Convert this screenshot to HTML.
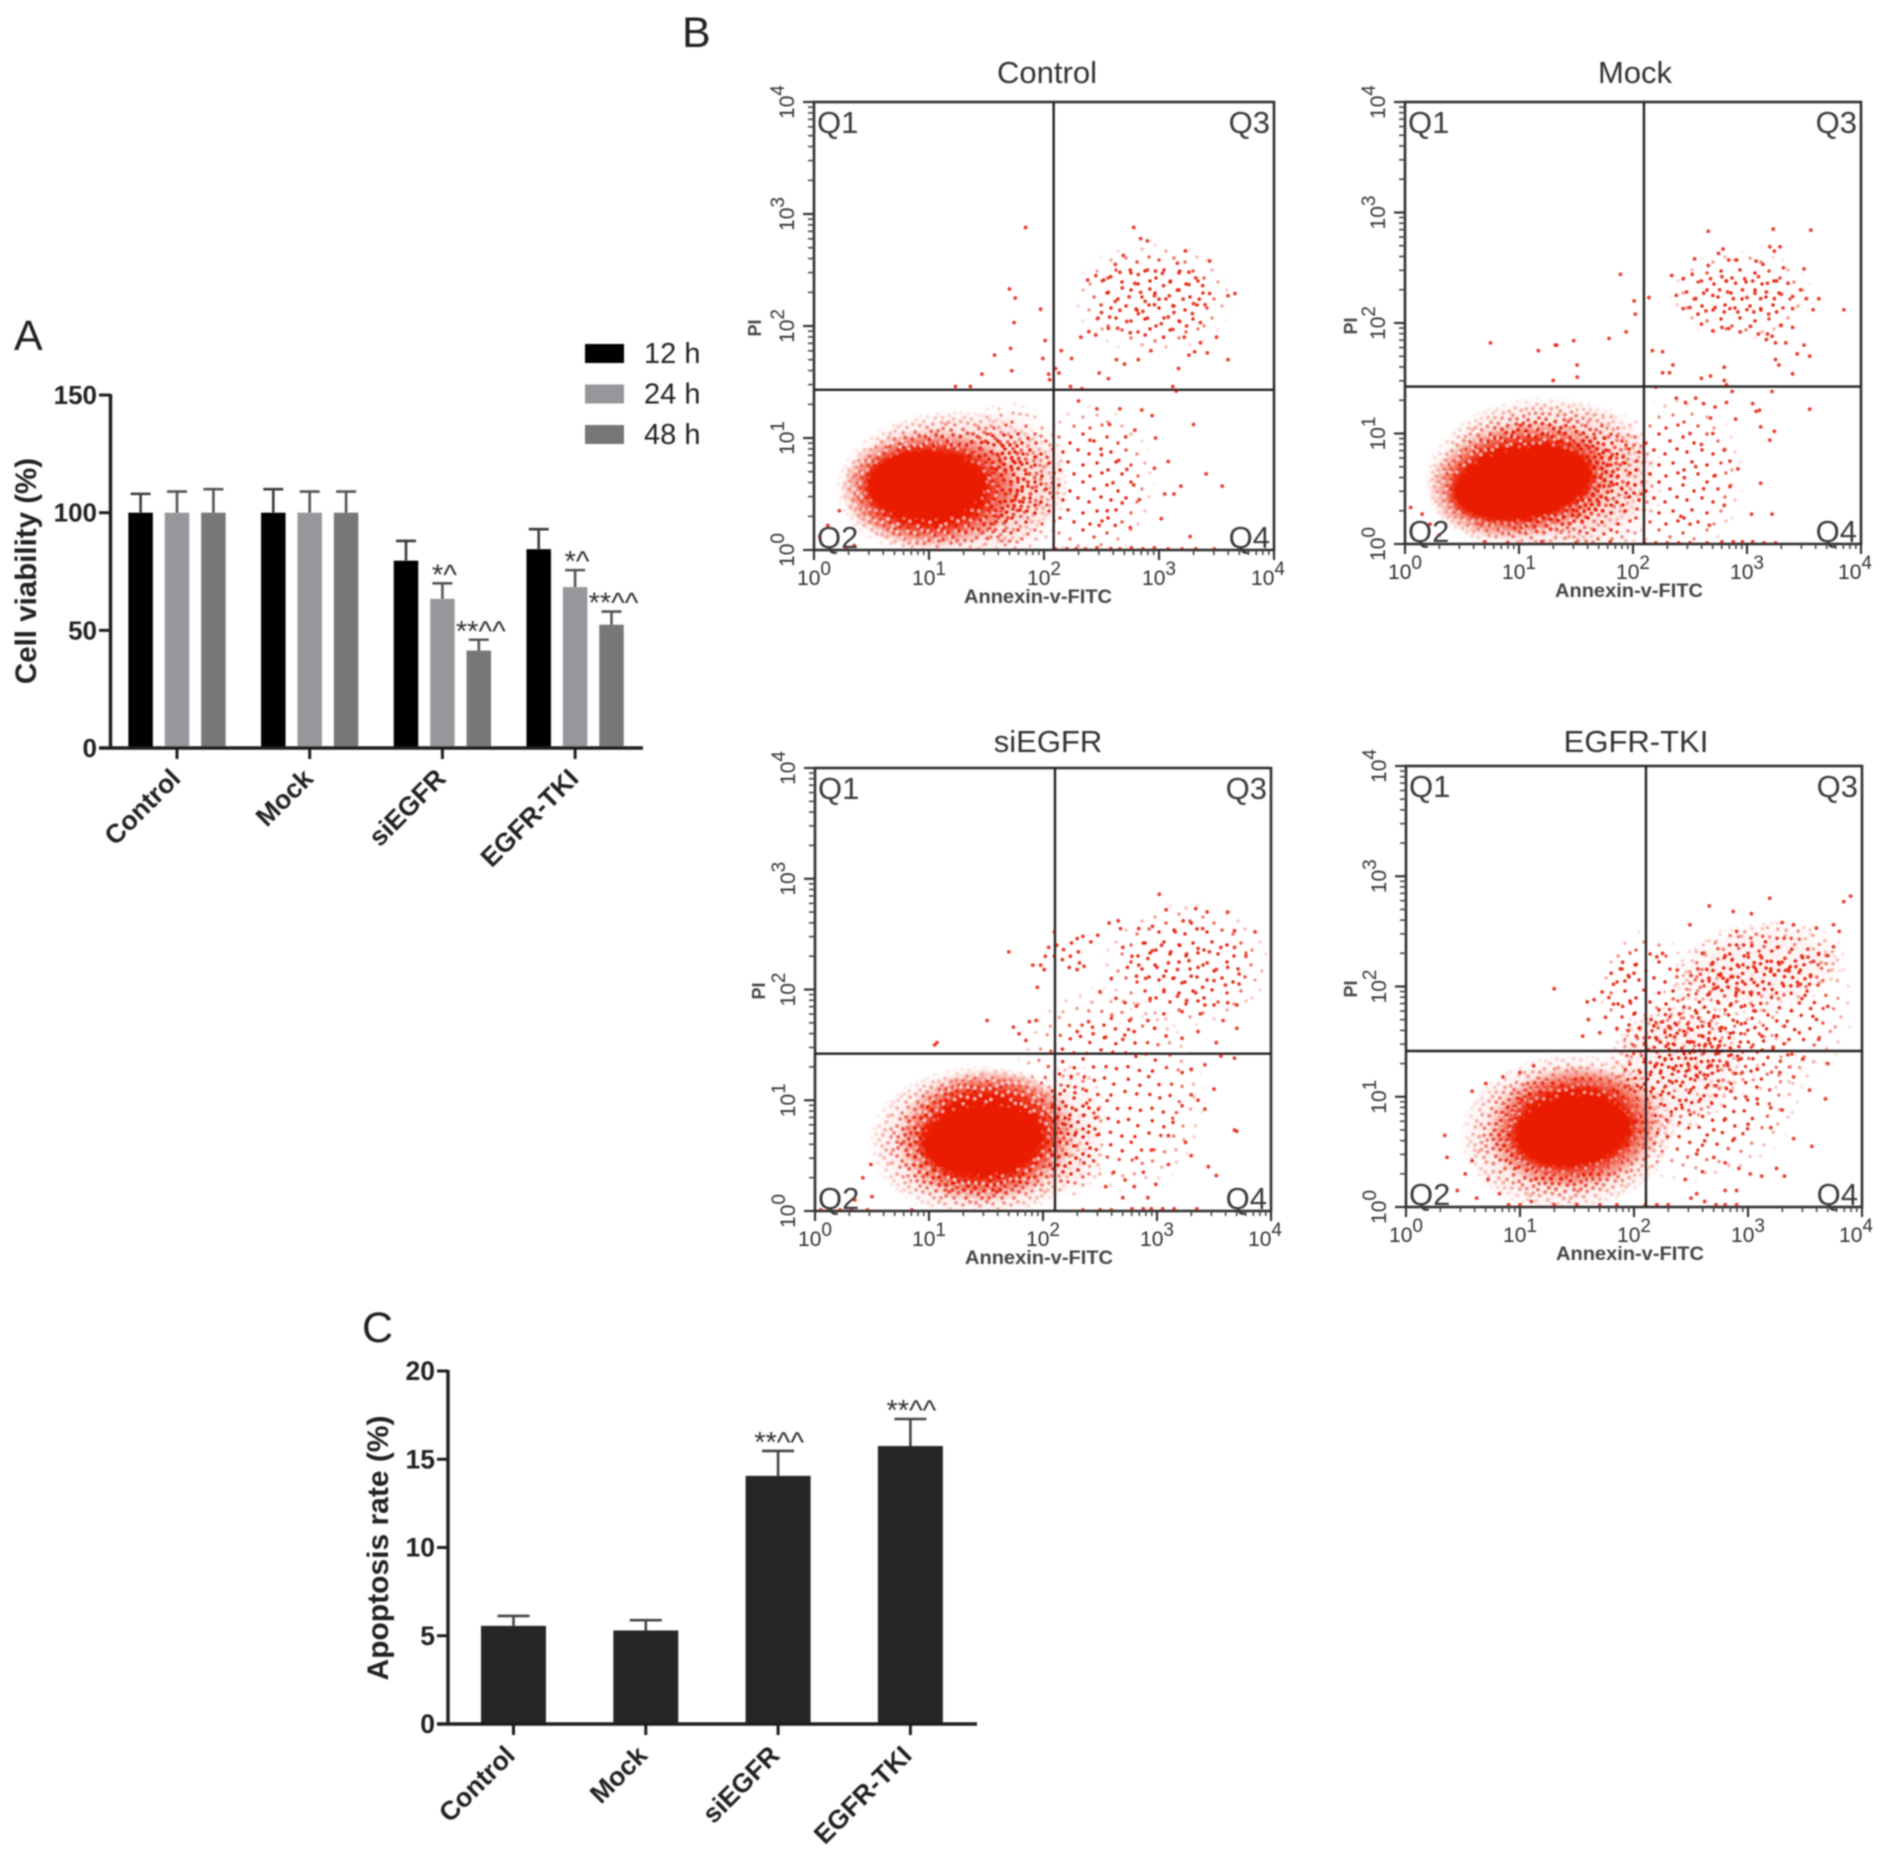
<!DOCTYPE html>
<html lang="en">
<head>
<meta charset="utf-8">
<title>Cell viability, flow cytometry and apoptosis rate</title>
<style>
html,body{margin:0;padding:0;background:#fff;}
svg{display:block;font-family:"Liberation Sans",sans-serif;}
</style>
</head>
<body>
<svg id="figure" xmlns="http://www.w3.org/2000/svg" width="1890" height="1856" viewBox="0 0 1890 1856">
<defs id="defs">
<filter id="soft" x="-2%" y="-2%" width="104%" height="104%"><feGaussianBlur stdDeviation="0.7"/></filter>
<radialGradient id="feather-fill" cx="0.5" cy="0.5" r="0.5"><stop offset="0.6" stop-color="#fff"/><stop offset="1" stop-color="#000"/></radialGradient>
<radialGradient id="core-fill" cx="0.5" cy="0.5" r="0.5"><stop offset="0.86" stop-color="#fff"/><stop offset="1" stop-color="#000"/></radialGradient>
<mask id="feather-mask" maskContentUnits="objectBoundingBox"><rect width="1" height="1" fill="url(#feather-fill)"/></mask>
<mask id="core-mask" maskContentUnits="objectBoundingBox"><rect width="1" height="1" fill="url(#core-fill)"/></mask>
</defs>
<g id="root" filter="url(#soft)">
<text x="14" y="350" font-size="43" fill="#222">A</text>
<text x="682" y="47" font-size="43" fill="#222">B</text>
<text x="362" y="1342" font-size="43" fill="#222">C</text>
<g id="viability-chart"></g>
<g id="flow-charts"></g>
<g id="apoptosis-chart"></g>
</g>
</svg>
<script>
/* ---------- Panel A data ---------- */
const viabilityCategories = ["Control", "Mock", "siEGFR", "EGFR-TKI"];
const viabilitySeriesNames = ["12 h", "24 h", "48 h"];
const viability12h = [100, 100, 79.6, 84.5];
const viability24h = [100, 100, 63.4, 68.4];
const viability48h = [100, 100, 41.4, 52.4];
const viabilityErrTop12h = [108, 110, 88, 93];
const viabilityErrTop24h = [109, 109, 70, 75.6];
const viabilityErrTop48h = [110, 109, 46, 58];
const viabilitySig12h = ["", "", "", ""];
const viabilitySig24h = ["", "", "*^", "*^"];
const viabilitySig48h = ["", "", "**^^", "**^^"];
const viabilityTicks = [0, 50, 100, 150];

/* ---------- Panel C data ---------- */
const apoptosisCategories = ["Control", "Mock", "siEGFR", "EGFR-TKI"];
const apoptosisValues = [5.56, 5.3, 14.06, 15.75];
const apoptosisErrTop = [6.12, 5.88, 15.47, 17.28];
const apoptosisSig = ["", "", "**^^", "**^^"];
const apoptosisTicks = [0, 5, 10, 15, 20];

/* ---------- Panel B data: log10 fluorescence (Annexin-V, PI) ---------- */
const flowExponents = [0, 1, 2, 3, 4];
const controlGate = [2.084, 1.43];
const mockGate = [2.096, 1.425];
const siegfrGate = [2.105, 1.42];
const tkiGate = [2.105, 1.415];

/* density regions: [logX, logY, spreadX, spreadY, tilt, densityLevel]
   levels: 0 sparse, 4 medium, 1 dense, 2 speckled solid, 3 solid */
const controlRegions = [
  [2.95,2.25,0.62,0.44,0,0],[2.40,0.60,0.50,0.62,0,0],[1.70,0.62,0.45,0.62,0,4],[1.20,0.58,0.88,0.58,-3,1],[1.02,0.55,0.68,0.46,0,2],[0.97,0.58,0.53,0.32,0,3]
];
const mockRegions = [
  [2.95,2.25,0.55,0.36,0,0],[2.40,0.60,0.50,0.65,0,0],[1.70,0.55,0.50,0.60,0,4],[1.18,0.62,0.88,0.62,-5,1],[1.03,0.58,0.72,0.46,-8,2],[1.03,0.55,0.64,0.33,-10,3]
];
const siegfrRegions = [
  [3.26,2.22,0.66,0.50,0,0],[2.60,1.10,0.70,0.85,-30,0],[2.25,0.72,0.28,0.55,0,4],[1.45,0.62,0.85,0.60,0,1],[1.50,0.68,0.68,0.52,-5,2],[1.47,0.64,0.55,0.33,-5,3]
];
const tkiRegions = [
  [2.60,1.05,0.80,0.72,-20,0],[2.10,1.95,0.36,0.50,0,0],[3.10,1.80,0.75,0.70,-15,0],[2.60,1.55,0.70,0.50,-25,0],[3.10,2.17,0.68,0.36,-8,4],[2.35,1.25,0.55,0.50,-25,4],[1.42,0.68,0.82,0.62,-5,1],[1.47,0.72,0.66,0.48,-6,2],[1.46,0.69,0.53,0.33,-8,3]
];

const controlPoints = [
[1.84,2.88],[1.70,2.33],[1.75,2.25],[1.74,2.03],[1.97,2.15],[2.01,1.87],[1.71,1.80],[1.57,1.74],[1.99,1.71],[1.72,1.60],[1.46,1.57],[1.23,1.46],[1.36,1.46],[2.04,1.57],[2.13,1.58],[2.15,1.78],[2.24,1.71],[2.10,1.62],[2.05,1.52],
[2.78,2.88],[2.84,2.78],[2.90,2.76],[2.69,2.63],[3.23,2.67],[3.44,2.58],[3.16,2.56],[2.62,2.55],[2.38,2.41],[2.45,2.45],[2.52,2.41],[2.58,2.44],[2.66,2.48],[2.75,2.50],[2.82,2.46],[2.90,2.50],[2.97,2.49],[3.03,2.47],[3.10,2.40],[3.18,2.49],[3.26,2.48],[3.32,2.43],[3.38,2.36],[3.44,2.29],[3.60,2.27],[3.66,2.29],
[2.56,2.30],[2.62,2.22],[2.68,2.34],[2.74,2.26],[2.79,2.38],[2.84,2.30],[2.88,2.22],[2.92,2.33],[2.96,2.27],[3.00,2.24],[3.04,2.36],[3.09,2.27],[3.12,2.18],[3.16,2.32],[3.21,2.24],[3.26,2.37],[3.30,2.20],[3.35,2.24],[3.40,2.19],[2.50,2.12],[2.57,2.08],[2.66,2.14],[2.72,2.04],[2.80,2.15],[2.82,2.11],[2.86,2.13],[2.90,2.07],[2.96,2.19],[3.02,2.02],[3.08,2.08],[3.13,2.12],[3.18,2.04],[3.24,2.00],[3.29,2.11],[3.36,2.03],[2.32,1.90],[2.39,1.95],[2.45,1.92],[2.47,2.07],[2.56,1.98],[2.64,1.98],[2.75,1.94],[2.88,1.92],[2.93,1.78],[3.04,1.90],[3.12,1.97],[3.22,1.90],[3.31,1.77],[3.36,1.85],[3.50,1.90],[3.60,1.70],[3.42,1.76],
[2.63,1.70],[2.70,1.66],[2.82,1.70],[3.17,1.62],[3.26,1.74],[2.48,1.58],[2.56,1.53],[3.12,1.46],[3.15,1.42],[2.30,1.33],[2.23,1.46],[2.33,1.44],
[2.46,1.26],[2.66,1.26],[2.94,1.20],[3.30,1.12],[2.57,1.12],[2.79,1.07],[2.71,1.01],[2.97,1.00],[3.08,0.79],[2.96,0.73],[3.41,0.68],[3.55,0.57],[3.19,0.57],[3.05,0.50],[3.13,0.50],[3.02,0.28],[3.27,0.12],[2.85,1.25],[2.40,0.98],[2.50,0.85],[2.65,0.80],[2.72,0.72],[2.60,0.60],[2.78,0.58],[2.83,0.45],[2.68,0.42],[2.55,0.35],[2.62,0.22],[2.48,0.22],[2.75,0.20],
[2.10,0.01],[2.20,0.01],[2.28,0.01],[2.36,0.01],[2.46,0.02],[2.58,0.01],[2.66,0.01],[2.76,0.02],[2.86,0.01],[2.96,0.02],[3.08,0.01],[3.20,0.01],[3.32,0.01],[3.48,0.01],[3.70,0.01],[0.35,0.04],[0.28,0.02],[0.05,0.12],[0.12,0.22],[0.22,0.35]
];

const mockPoints = [
[2.66,2.83],[3.23,2.85],[3.56,2.84],[2.79,2.67],[2.75,2.63],[3.20,2.69],[3.24,2.65],[3.29,2.69],[2.54,2.58],[2.66,2.52],[2.84,2.57],[2.91,2.57],[3.08,2.56],[3.14,2.53],[3.32,2.50],[3.50,2.49],[2.34,2.43],[2.44,2.40],[2.52,2.44],[2.60,2.38],[2.68,2.40],[2.78,2.42],[2.82,2.38],[2.90,2.36],[2.98,2.40],[3.05,2.38],[3.10,2.42],[3.18,2.36],[3.26,2.38],[3.36,2.36],[3.47,2.30],
[2.38,2.25],[2.47,2.28],[2.55,2.22],[2.62,2.27],[2.70,2.25],[2.76,2.30],[2.83,2.28],[2.88,2.22],[2.96,2.30],[3.00,2.23],[3.07,2.27],[3.12,2.22],[3.17,2.28],[3.24,2.22],[3.30,2.26],[3.40,2.24],[3.52,2.22],[3.63,2.22],[2.44,2.13],[2.50,2.14],[2.57,2.08],[2.64,2.11],[2.72,2.14],[2.80,2.10],[2.85,2.13],[2.92,2.10],[3.00,2.12],[3.06,2.10],[3.12,2.13],[3.19,2.08],[3.26,2.10],[3.40,2.13],[3.58,2.12],[3.85,2.12],[2.60,1.99],[2.70,1.93],[2.78,1.96],[2.84,1.95],[2.94,1.92],[3.03,1.97],[3.10,1.90],[3.17,1.85],[3.22,1.88],[3.30,1.98],[3.40,1.96],[3.18,1.90],[3.25,1.82],[3.34,1.82],[3.50,1.80],[3.44,1.72],[3.25,1.67],[3.28,1.62],[3.40,1.54],[3.55,1.70],
[1.89,2.44],[2.01,2.20],[2.14,2.23],[2.02,2.08],[1.94,1.92],[1.79,1.86],[1.33,1.80],[1.32,1.80],[1.48,1.84],[0.75,1.82],[1.17,1.75],[1.51,1.62],[1.51,1.51],[1.30,1.48],[2.17,1.75],[2.26,1.74],[2.35,1.62],[2.26,1.55],[2.20,1.42],[2.32,1.55],
[2.60,1.50],[2.68,1.52],[2.80,1.48],[2.82,1.44],[2.80,1.60],[2.87,1.38],[3.22,1.38],[3.08,1.20],[3.05,1.27],[3.11,1.21],[3.55,1.22],[2.38,1.32],[2.46,1.28],[2.55,1.32],[2.62,1.27],[2.72,1.24],[2.82,1.28],[2.68,1.14],[2.90,1.13],[3.12,1.06],[3.24,1.02],[3.20,0.94],[2.70,1.00],[2.50,1.00],[2.60,0.90],[2.80,0.85],[2.85,0.75],[2.92,0.68],[2.72,0.62],[2.55,0.70],[2.45,0.60],[2.62,0.50],[2.85,0.52],[2.80,0.35],[3.12,0.55],[3.04,0.27],[3.22,0.27],[2.67,0.17],[2.42,0.25],[2.50,0.18],
[0.70,0.02],[0.90,0.01],[1.20,0.02],[1.50,0.01],[1.80,0.02],[2.10,0.01],[2.20,0.01],[2.30,0.01],[2.40,0.01],[2.50,0.01],[2.65,0.01],[2.78,0.02],[2.88,0.02],[2.96,0.02],[3.05,0.02],[3.15,0.01],[3.25,0.01],[0.15,0.27],[0.22,0.18],[0.30,0.08],[0.05,0.33]
];

const siegfrPoints = [
[3.02,2.86],[2.58,2.60],[2.66,2.62],[3.08,2.72],[3.34,2.73],[3.44,2.70],[3.62,2.70],[3.23,2.62],[3.30,2.60],[2.48,2.49],[2.68,2.55],[2.84,2.55],[2.96,2.57],[3.16,2.52],[3.40,2.55],[3.68,2.53],[3.86,2.52],
[2.10,2.52],[2.35,2.48],[2.42,2.43],[2.25,2.42],[2.30,2.46],[2.12,2.40],[2.18,2.36],[2.05,2.38],[2.02,2.30],[2.10,2.30],[2.17,2.27],[2.24,2.30],[2.31,2.34],[2.32,2.24],[2.36,2.21],[2.01,2.18],[1.98,2.22],[2.23,2.20],[2.30,2.18],[1.70,2.34],[1.91,2.22],[1.95,2.02],
[2.70,2.38],[2.78,2.30],[2.88,2.42],[2.96,2.35],[3.04,2.40],[3.12,2.34],[3.20,2.40],[3.26,2.32],[3.36,2.37],[3.46,2.34],[3.56,2.38],[3.68,2.38],[3.78,2.30],[2.74,2.20],[2.84,2.22],[2.92,2.28],[3.00,2.20],[3.10,2.24],[3.18,2.18],[3.28,2.26],[3.36,2.20],[3.44,2.24],[3.52,2.18],[3.62,2.20],[3.72,2.14],[2.60,2.10],[2.82,2.12],[2.90,2.10],[3.06,2.12],[3.14,2.10],[3.22,2.06],[3.30,2.12],[3.40,2.02],[3.50,2.08],[3.60,2.04],[3.72,2.05],
[2.50,1.98],[2.64,1.92],[2.72,1.88],[2.94,1.92],[3.06,1.98],[3.18,1.94],[3.26,1.90],[3.34,1.97],[3.42,1.86],[3.50,1.86],[3.62,1.88],[3.70,1.86],[2.82,1.85],[2.60,1.74],[2.76,1.72],[2.92,1.72],[3.06,1.78],[3.22,1.80],[3.38,1.78],[3.58,1.72],[3.70,1.65],[2.40,1.71],[2.30,1.62],[2.44,1.60],[2.55,1.57],[2.70,1.55],[2.80,1.62],[2.98,1.65],[3.08,1.58],[3.22,1.56],[3.36,1.62],[3.52,1.52],[1.51,1.72],[1.74,1.66],[1.88,1.71],[1.94,1.72],[1.79,1.60],[1.85,1.54],[1.07,1.52],[1.05,1.50],
[3.22,1.25],[3.30,1.28],[3.42,1.32],[3.56,1.40],[3.68,1.38],[3.50,1.10],[3.36,1.00],[3.22,0.95],[3.30,1.05],[3.42,0.92],[3.68,0.73],[3.14,0.80],[3.10,0.68],[3.25,0.62],[3.30,0.50],[3.10,0.42],[3.45,0.40],[3.52,0.32],[3.70,0.72],[2.95,0.55],[2.82,0.48],[2.88,0.35],[2.72,0.28],[2.62,0.35],[2.55,0.22],[2.70,0.12],[2.80,0.22],[2.99,0.24],[2.92,0.12],[2.78,0.02],[2.88,0.02],[2.95,0.02],[3.05,0.02],[3.15,0.02],[3.35,0.02],[0.49,0.42],[0.42,0.30],[0.50,0.13],[0.35,0.10],[2.35,0.01],[2.50,0.01],[2.60,0.01],[0.05,0.01],[0.12,0.02],[0.22,0.01],[0.32,0.01],[0.46,0.01],[0.85,0.01]
];

const tkiPoints = [
[3.19,2.80],[3.84,2.77],[3.90,2.82],[2.66,2.73],[2.87,2.68],[3.03,2.66],[2.49,2.56],[2.90,2.50],[3.30,2.58],[3.40,2.56],[3.60,2.53],[3.75,2.56],[3.80,2.50],
[1.30,1.98],[1.59,1.86],[1.65,1.88],[1.72,1.95],[1.78,1.90],[1.82,1.84],[1.90,1.82],[1.82,2.02],[1.90,2.22],[1.95,2.10],[2.00,2.12],[1.88,2.16],[1.80,2.12],[1.92,2.05],[2.02,2.20],[1.97,1.85],[2.00,1.75],[1.75,1.72],[1.60,1.70],[1.55,1.55],[1.70,1.58],[1.85,1.62],[1.95,1.60],[2.02,1.55],
[2.20,2.27],[2.25,2.30],[2.38,2.15],[2.50,2.10],[2.56,2.16],[2.60,2.05],[2.70,2.02],[2.76,2.10],[2.80,2.28],[2.86,2.24],[2.92,2.18],[2.82,2.06],[2.90,1.98],[2.68,2.20],[2.60,2.30],[3.00,2.30],[3.05,2.18],[3.12,2.26],[3.20,2.16],[3.30,2.22],[3.36,2.14],[3.42,2.18],[3.48,2.26],[3.55,2.10],[3.62,2.30],[3.70,2.28],[3.75,2.36],[3.54,2.02],[3.46,2.02],[3.50,1.92],[3.45,1.85],[3.55,1.80],[3.60,1.70],[3.70,1.82],[3.38,1.78],[3.32,1.64],[3.45,1.58],[3.62,1.52],
[2.15,1.70],[2.25,1.68],[2.32,1.62],[2.40,1.75],[2.48,1.62],[2.55,1.76],[2.50,1.50],[2.60,1.64],[2.70,1.72],[2.66,1.58],[2.74,1.46],[2.20,1.52],[2.30,1.48],[2.42,1.44],[2.52,1.42],[2.62,1.46],[2.80,1.62],[2.94,1.66],[3.05,1.78],[3.12,1.55],[3.22,1.45],[3.35,1.38],[3.48,1.34],[3.70,1.30],
[2.20,1.30],[2.34,1.26],[2.48,1.28],[2.58,1.22],[2.68,1.28],[2.82,1.30],[2.95,1.22],[3.08,1.25],[3.28,1.22],[3.40,1.18],[3.54,1.06],[3.68,0.98],[2.72,1.10],[2.85,1.05],[2.98,1.00],[3.08,0.98],[3.20,0.90],[3.30,0.88],[2.80,0.80],[2.70,0.70],[2.88,0.62],[3.00,0.75],[3.20,0.72],[3.40,0.62],[3.56,0.55],[2.62,0.60],[2.55,0.48],[2.70,0.45],[2.60,0.32],[2.45,0.25],[2.80,0.40],[2.92,0.35],[3.02,0.30],[3.12,0.28],[3.25,0.35],[3.32,0.28],[2.55,0.12],[2.50,0.08],[2.62,0.05],[2.80,0.15],[2.90,0.15],
[0.34,0.65],[0.36,0.45],[0.52,0.30],[0.45,0.15],[0.58,0.42],[0.62,0.08],[0.72,0.25],[0.82,0.12],[0.90,0.02],[1.00,0.02],[1.10,0.05],[1.30,0.02],[1.50,0.02],[1.70,0.02],[1.85,0.02],[2.10,0.02],[2.20,0.02],[2.30,0.02],[2.72,0.02],[2.80,0.02],[2.90,0.02],[0.58,1.05],[0.70,1.12],[0.85,1.18],[1.00,1.22],[1.12,1.28]
];

/* stipple texture tile used to shade density regions */
const stippleTile = [
[3,5],[27,2],[14,11],[38,9],[7,20],[22,18],[33,22],[45,17],[12,30],[27,33],[41,31],[4,38],[18,42],[34,44],[46,41],
[10,2],[20,6],[33,4],[44,3],[2,13],[9,14],[28,11],[42,13],[15,22],[27,25],[39,25],[5,29],[19,31],[34,33],[47,29],[11,40],[24,39],[40,38],[6,46],[29,46],
[16,3],[24,12],[36,15],[3,24],[11,25],[21,26],[44,24],[30,29],[8,34],[15,36],[37,40],[45,35],[22,46],[42,46],[33,38]
];

/* ---------- Helpers ---------- */
const NS = "http://www.w3.org/2000/svg";
const RED = "#e91c00";
function el(tag, attrs, parent) {
  const node = document.createElementNS(NS, tag);
  for (const key in attrs) node.setAttribute(key, attrs[key]);
  parent.appendChild(node);
  return node;
}
function line(parent, x1, y1, x2, y2, stroke, width) {
  return el("line", {x1: x1, y1: y1, x2: x2, y2: y2, stroke: stroke, "stroke-width": width}, parent);
}
function axisLine(parent, x1, y1, x2, y2) {
  const node = line(parent, x1, y1, x2, y2, "#1e1e1e", 3.4);
  
  
  return node;
}

/* ---------- Stipple patterns ---------- */
(function buildPatterns() {
  const defs = document.getElementById("defs");
  const levels = [0, 1, 2, 4];
  const counts = {0: 15, 1: 50, 2: 38, 4: 28};
  const backgrounds = {0: "none", 1: "rgba(233,40,10,0.12)", 2: "#e91c00", 4: "rgba(233,40,10,0.05)"};
  const dotColors = {0: "#e62410", 1: "#e62410", 2: "rgba(255,235,225,0.75)", 4: "#e62410"};
  const dotRadii = {0: 1.7, 1: 2.0, 2: 1.6, 4: 1.8};
  levels.forEach(function (level) {
    const pattern = el("pattern", {id: "stipple-" + level, width: 48, height: 48, patternUnits: "userSpaceOnUse"}, defs);
    
    
    if (backgrounds[level] !== "none") {
      el("rect", {width: 48, height: 48, fill: backgrounds[level]}, pattern);
    }
    stippleTile.slice(0, counts[level]).forEach(function (d) {
      el("circle", {cx: d[0], cy: d[1], r: dotRadii[level], fill: dotColors[level]}, pattern);
    });
  });
})();

/* ---------- Panel A ---------- */
(function drawViability() {
  const g = document.getElementById("viability-chart");
  const baseY = 748, unit = 2.353, axisX = 110.5;
  const y = function (v) { return baseY - v * unit; };
  const groupX = function (i) { return 177 + 132.7 * i; };
  const seriesOffset = function (s) { return (s - 1) * 36.4; };
  const barW = 24.5;
  const seriesValues = [viability12h, viability24h, viability48h];
  const seriesErr = [viabilityErrTop12h, viabilityErrTop24h, viabilityErrTop48h];
  const seriesSig = [viabilitySig12h, viabilitySig24h, viabilitySig48h];
  const seriesColors = ["#000000", "#97979b", "#777777"];
  const errColors = ["#3a3a3a", "#555555", "#555555"];

  seriesValues.forEach(function (values, s) {
    values.forEach(function (v, i) {
      const cx = groupX(i) + seriesOffset(s);
      const bar = el("rect", {x: cx - barW / 2, y: y(v), width: barW, height: baseY - y(v), fill: seriesColors[s]}, g);
      
      
      const stem = line(g, cx, y(v), cx, y(seriesErr[s][i]), errColors[s], 2.6);
      
      
      const cap = line(g, cx - 10, y(seriesErr[s][i]), cx + 10, y(seriesErr[s][i]), errColors[s], 2.6);
      
      
      if (seriesSig[s][i]) {
        const mark = el("text", {x: cx + 2, y: y(seriesErr[s][i]) + 1, "font-size": 29, fill: "#333", "text-anchor": "middle"}, g);
        mark.textContent = seriesSig[s][i];
        
        
      }
    });
  });

  axisLine(g, axisX, y(150) - 1, axisX, baseY + 1);
  axisLine(g, 99, baseY, 643, baseY);
  viabilityTicks.forEach(function (t) {
    const tick = line(g, 99, y(t), axisX, y(t), "#1e1e1e", 3);
    
    
    const label = el("text", {x: 97, y: y(t) + 9, "font-size": 26, "font-weight": "bold", fill: "#222", "text-anchor": "end"}, g);
    label.textContent = t;
    
    
  });
  viabilityCategories.forEach(function (c, i) {
    const tick = line(g, groupX(i), baseY, groupX(i), baseY + 11, "#1e1e1e", 3);
    
    
    const ax = groupX(i) + 5, ay = 780;
    const label = el("text", {x: ax, y: ay, "font-size": 26.5, "font-weight": "bold", fill: "#222", "text-anchor": "end", transform: "rotate(-45 " + ax + " " + ay + ")"}, g);
    label.textContent = c;
    
    
  });
  const title = el("text", {x: 36, y: 571, "font-size": 29.5, "font-weight": "bold", fill: "#222", "text-anchor": "middle", transform: "rotate(-90 36 571)"}, g);
  title.textContent = "Cell viability (%)";
  
  

  viabilitySeriesNames.forEach(function (n, s) {
    const top = 344 + s * 40.5;
    const swatch = el("rect", {x: 585, y: top, width: 39, height: 19, fill: seriesColors[s]}, g);
    
    
    const label = el("text", {x: 644, y: top + 19, "font-size": 29, fill: "#222"}, g);
    label.textContent = n;
    
    
  });
})();

/* ---------- Panel C ---------- */
(function drawApoptosis() {
  const g = document.getElementById("apoptosis-chart");
  const baseY = 1724, unit = 17.65, axisX = 448;
  const y = function (v) { return baseY - v * unit; };
  const barX = function (i) { return 513.5 + 132.3 * i; };
  apoptosisValues.forEach(function (v, i) {
    const cx = barX(i);
    const bar = el("rect", {x: cx - 32.5, y: y(v), width: 65, height: baseY - y(v), fill: "#262626"}, g);
    
    
    const stem = line(g, cx, y(v), cx, y(apoptosisErrTop[i]), "#444", 2.6);
    
    
    const cap = line(g, cx - 16, y(apoptosisErrTop[i]), cx + 16, y(apoptosisErrTop[i]), "#444", 2.6);
    
    
    if (apoptosisSig[i]) {
      const mark = el("text", {x: cx + 1, y: y(apoptosisErrTop[i]) + 1, "font-size": 29, fill: "#333", "text-anchor": "middle"}, g);
      mark.textContent = apoptosisSig[i];
      
      
    }
    const tick = line(g, cx, baseY, cx, baseY + 11, "#1e1e1e", 3);
    
    
    const ax = cx + 3, ay = 1757;
    const label = el("text", {x: ax, y: ay, "font-size": 26.5, "font-weight": "bold", fill: "#222", "text-anchor": "end", transform: "rotate(-45 " + ax + " " + ay + ")"}, g);
    label.textContent = apoptosisCategories[i];
    
    
  });
  axisLine(g, axisX, y(20) - 1, axisX, baseY + 1);
  axisLine(g, 437, baseY, 977, baseY);
  apoptosisTicks.forEach(function (t) {
    const tick = line(g, 437, y(t), axisX, y(t), "#1e1e1e", 3);
    
    
    const label = el("text", {x: 435, y: y(t) + 9, "font-size": 26.5, "font-weight": "bold", fill: "#222", "text-anchor": "end"}, g);
    label.textContent = t;
    
    
  });
  const title = el("text", {x: 388, y: 1548, "font-size": 30, "font-weight": "bold", fill: "#222", "text-anchor": "middle", transform: "rotate(-90 388 1548)"}, g);
  title.textContent = "Apoptosis rate (%)";
  
  
})();

/* ---------- Panel B ---------- */
function drawFlowPanel(cfg) {
  const root = document.getElementById("flow-charts");
  const g = el("g", {}, root);
  
  
  const xs = function (d) { return cfg.x0 + (d / 4) * (cfg.x1 - cfg.x0); };
  const ys = function (d) { return cfg.y0 - (d / 4) * (cfg.y0 - cfg.y1); };
  const clip = el("clipPath", {id: "clip-" + cfg.slug}, g);
  el("rect", {x: cfg.x0, y: cfg.y1, width: cfg.x1 - cfg.x0, height: cfg.y0 - cfg.y1}, clip);
  const marks = el("g", {"clip-path": "url(#clip-" + cfg.slug + ")"}, g);
  
  

  cfg.regions.forEach(function (r) {
    const cx = xs(r[0]), cy = ys(r[1]);
    const isCore = r[5] === 3;
    const grow = isCore ? 1.06 : 1.16;
    const rx = grow * r[2] / 4 * (cfg.x1 - cfg.x0), ry = grow * r[3] / 4 * (cfg.y0 - cfg.y1);
    const fill = isCore ? RED : "url(#stipple-" + r[5] + ")";
    const region = el("ellipse", {cx: cx, cy: cy, rx: rx, ry: ry, fill: fill, mask: isCore ? "url(#core-mask)" : "url(#feather-mask)", transform: "rotate(" + r[4] + " " + cx + " " + cy + ")"}, marks);
    
    
  });
  cfg.points.forEach(function (p) {
    const dot = el("circle", {cx: xs(p[0]), cy: ys(p[1]), r: 1.9, fill: "#e62a14", "fill-opacity": 0.9}, marks);
    
    
  });

  const box = el("rect", {x: cfg.x0, y: cfg.y1, width: cfg.x1 - cfg.x0, height: cfg.y0 - cfg.y1, fill: "none", stroke: "#333", "stroke-width": 2.6}, g);
  
  
  const gateV = line(g, xs(cfg.gate[0]), cfg.y1, xs(cfg.gate[0]), cfg.y0, "#222", 2.4);
  
  
  const gateH = line(g, cfg.x0, ys(cfg.gate[1]), cfg.x1, ys(cfg.gate[1]), "#222", 2.4);
  
  

  flowExponents.forEach(function (e) {
    const mx = line(g, xs(e), cfg.y0, xs(e), cfg.y0 + 10, "#333", 2.2);
    
    
    const my = line(g, cfg.x0 - 11, ys(e), cfg.x0, ys(e), "#333", 2.2);
    
    
    if (e < 4) {
      for (let k = 2; k <= 9; k++) {
        const m = e + Math.log10(k);
        const nx = line(g, xs(m), cfg.y0, xs(m), cfg.y0 + 5, "#444", 1.6);
        
        
        const ny = line(g, cfg.x0 - 6, ys(m), cfg.x0, ys(m), "#444", 1.6);
        
        
      }
    }
    const tx = el("text", {x: xs(e) - (e === 4 ? 6 : 0), y: cfg.y0 + 35, "font-size": 21, fill: "#333", "text-anchor": "middle"}, g);
    
    
    tx.appendChild(document.createTextNode("10"));
    const supX = el("tspan", {dy: -10, "font-size": 19}, tx);
    supX.textContent = e;
    const lx = cfg.x0 - 20, ly = ys(e);
    const ty = el("text", {x: lx, y: ly, "font-size": 21, fill: "#333", "text-anchor": "middle", transform: "rotate(-90 " + lx + " " + ly + ")"}, g);
    
    
    ty.appendChild(document.createTextNode("10"));
    const supY = el("tspan", {dy: -10, "font-size": 19}, ty);
    supY.textContent = e;
  });

  const title = el("text", {x: cfg.titleX, y: cfg.titleY, "font-size": 31, fill: "#333", "text-anchor": "middle"}, g);
  title.textContent = cfg.title;
  
  

  const quads = [
    ["Q1", cfg.x0 + 3, cfg.y1 + 31, "start"],
    ["Q3", cfg.x1 - 4, cfg.y1 + 31, "end"],
    ["Q2", cfg.x0 + 3, cfg.y0 - 2, "start"],
    ["Q4", cfg.x1 - 4, cfg.y0 - 2, "end"]
  ];
  quads.forEach(function (q) {
    const label = el("text", {x: q[1], y: q[2], "font-size": 31, fill: "#3a3a3a", "text-anchor": q[3]}, g);
    label.textContent = q[0];
    
    
  });

  const xTitle = el("text", {x: cfg.xLabelX, y: cfg.y0 + 53, "font-size": 19.5, "font-weight": "bold", fill: "#444", "text-anchor": "middle", textLength: 148, lengthAdjust: "spacingAndGlyphs"}, g);
  xTitle.textContent = "Annexin-v-FITC";
  
  
  const px = cfg.piX, py = cfg.piY;
  const yTitle = el("text", {x: px, y: py, "font-size": 18, "font-weight": "bold", fill: "#444", "text-anchor": "middle", transform: "rotate(-90 " + px + " " + py + ")"}, g);
  yTitle.textContent = "PI";
  
  
}

drawFlowPanel({slug: "control", title: "Control", x0: 814, x1: 1274, y0: 550, y1: 102, titleX: 1047, titleY: 83, xLabelX: 1038, piX: 761, piY: 328, gate: controlGate, regions: controlRegions, points: controlPoints});
drawFlowPanel({slug: "mock", title: "Mock", x0: 1405, x1: 1861, y0: 544, y1: 102, titleX: 1635, titleY: 83, xLabelX: 1629, piX: 1357, piY: 326, gate: mockGate, regions: mockRegions, points: mockPoints});
drawFlowPanel({slug: "siegfr", title: "siEGFR", x0: 815, x1: 1271, y0: 1211, y1: 768, titleX: 1048, titleY: 752, xLabelX: 1039, piX: 765, piY: 991, gate: siegfrGate, regions: siegfrRegions, points: siegfrPoints});
drawFlowPanel({slug: "tki", title: "EGFR-TKI", x0: 1406, x1: 1862, y0: 1207, y1: 766, titleX: 1636, titleY: 752, xLabelX: 1630, piX: 1357, piY: 989, gate: tkiGate, regions: tkiRegions, points: tkiPoints});
</script>
</body>
</html>
